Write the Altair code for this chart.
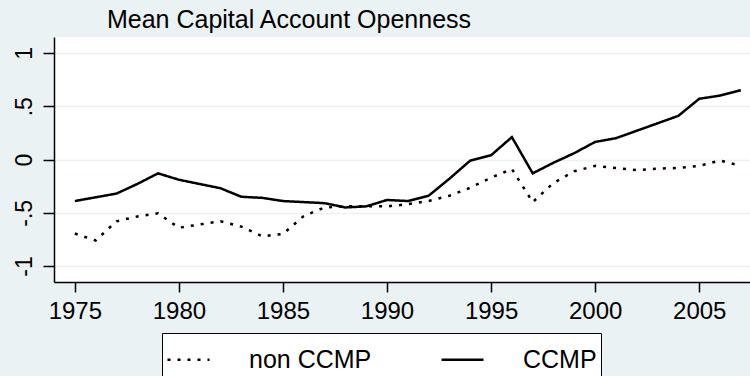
import altair as alt
import pandas as pd

years = list(range(1975, 2008))

# Mean capital account openness by group
ccmp = [-0.39, -0.355, -0.32, -0.23, -0.13, -0.19, -0.23, -0.27, -0.35, -0.36,
        -0.39, -0.40, -0.41, -0.45, -0.44, -0.38, -0.39, -0.34, -0.18, -0.01,
        0.04, 0.21, -0.13, -0.03, 0.06, 0.165, 0.20, 0.27, 0.34, 0.41,
        0.57, 0.60, 0.65]
non_ccmp = [-0.695, -0.76, -0.58, -0.535, -0.505, -0.64, -0.61, -0.58, -0.63, -0.72,
            -0.70, -0.53, -0.45, -0.44, -0.44, -0.44, -0.42, -0.39, -0.34, -0.265,
            -0.17, -0.09, -0.40, -0.22, -0.11, -0.06, -0.08, -0.10, -0.085, -0.08,
            -0.06, -0.01, -0.06]

series_names = ["non CCMP", "CCMP"]
x_ticks = [1975, 1980, 1985, 1990, 1995, 2000, 2005]
y_ticks = [-1, -0.5, 0, 0.5, 1]

df = pd.concat([
    pd.DataFrame({"year": years, "value": non_ccmp, "group": series_names[0]}),
    pd.DataFrame({"year": years, "value": ccmp, "group": series_names[1]}),
])

FONT = "Liberation Sans"
BG = "#EAF2F3"

chart = alt.Chart(df).mark_line(color="black", strokeWidth=2.5).encode(
    x=alt.X("year:Q",
            scale=alt.Scale(domain=[1974, 2007.44], nice=False, zero=False),
            axis=alt.Axis(values=x_ticks, format="d", title=None, grid=False,
                          tickSize=10, tickWidth=1.5, tickColor="black",
                          domainColor="black", domainWidth=1.5,
                          labelFont=FONT, labelFontSize=24, labelColor="black",
                          labelPadding=7)),
    y=alt.Y("value:Q",
            scale=alt.Scale(domain=[-1.15, 1.15], nice=False, zero=False),
            axis=alt.Axis(values=y_ticks, title=None, grid=True,
                          gridColor=BG, gridWidth=1.5,
                          tickSize=11, tickWidth=1.5, tickColor="black",
                          domainColor="black", domainWidth=1.5,
                          labelFont=FONT, labelFontSize=23, labelColor="black",
                          labelAngle=270, labelAlign="center",
                          labelBaseline="alphabetic", labelPadding=12,
                          labelExpr="datum.value == 0.5 ? '.5' : datum.value == -0.5 ? '-.5' : datum.value == -1 ? '-1' : datum.value == 1 ? '1' : '0'")),
    strokeDash=alt.StrokeDash("group:N",
            scale=alt.Scale(domain=series_names, range=[[3, 7], [1, 0]]),
            legend=alt.Legend(title=None, orient="none", legendX=108, legendY=296,
                              direction="horizontal", fillColor="white",
                              strokeColor="black", padding=4,
                              symbolType="stroke", symbolSize=1764,
                              symbolStrokeWidth=2.5, symbolStrokeColor="black",
                              labelFont=FONT, labelFontSize=25, labelColor="black",
                              labelOffset=38, columnPadding=64)),
).properties(
    width=696,
    height=245,
    title=alt.TitleParams("Mean Capital Account Openness", font=FONT, fontSize=25,
                          fontWeight="normal", color="black", anchor="middle",
                          frame="group", dx=-113, offset=4),
    autosize=alt.AutoSizeParams(type="none"),
    padding={"left": 54, "top": 37, "right": 0, "bottom": 94},
    background=BG,
).configure_view(fill="white", stroke=None)

chart.save("out.html", embed_options={"renderer": "svg", "actions": False})
